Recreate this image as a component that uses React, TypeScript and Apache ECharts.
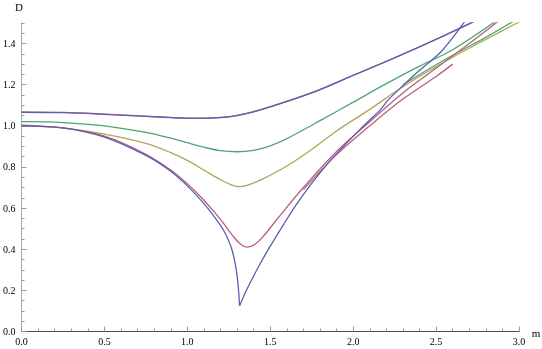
import React, { useEffect, useRef } from "react";
import * as echarts from "echarts";

// m values and D values for each curve
const topM = [0, 0.25, 0.5, 0.75, 0.9, 1.0, 1.1, 1.2, 1.3, 1.4, 1.5, 1.75, 2.0, 2.25, 2.5, 2.75];
const topBlueD = [1.066, 1.064, 1.056, 1.046, 1.04, 1.036, 1.036, 1.04, 1.05, 1.068, 1.092, 1.16, 1.245, 1.33, 1.42, 1.515];
const topRedD = [1.067, 1.065, 1.057, 1.047, 1.041, 1.037, 1.037, 1.041, 1.051, 1.069, 1.093, 1.161, 1.246, 1.331, 1.421, 1.516];

const greenM = [0, 0.25, 0.5, 0.75, 0.9, 1.0, 1.1, 1.2, 1.3, 1.4, 1.5, 1.6, 1.8, 2.0, 2.2, 2.4, 2.6, 2.87];
const greenD = [1.02, 1.016, 1.0, 0.968, 0.94, 0.918, 0.896, 0.879, 0.874, 0.881, 0.903, 0.938, 1.025, 1.115, 1.205, 1.29, 1.37, 1.515];

const oliveM = [0, 0.25, 0.5, 0.75, 0.9, 1.0, 1.1, 1.2, 1.27, 1.31, 1.36, 1.45, 1.6, 1.75, 1.9, 2.1, 2.3, 2.57, 2.8, 3.0];
const oliveD = [1.005, 0.99, 0.96, 0.915, 0.87, 0.832, 0.785, 0.738, 0.712, 0.704, 0.71, 0.74, 0.805, 0.885, 0.975, 1.08, 1.19, 1.32, 1.42, 1.505];

const green2M = [2.3, 2.57, 2.8, 2.98];
const green2D = [1.2, 1.33, 1.43, 1.515];

const redM = [0, 0.25, 0.5, 0.75, 0.9, 1.0, 1.1, 1.2, 1.27, 1.32, 1.36, 1.4, 1.45, 1.55, 1.7, 1.9, 2.1, 2.3, 2.5, 2.7, 2.885];
const redD = [1.0, 0.99, 0.95, 0.862, 0.785, 0.718, 0.638, 0.545, 0.47, 0.425, 0.41, 0.42, 0.455, 0.555, 0.7, 0.875, 1.02, 1.16, 1.28, 1.4, 1.515];

const red2M = [1.7, 1.9, 2.1, 2.3, 2.5, 2.6];
const red2D = [0.69, 0.86, 1.0, 1.13, 1.24, 1.3];

// cusp curve: left branch down to the cusp, right branch up from it
const cuspLeftM = [0, 0.25, 0.5, 0.75, 0.9, 1.0, 1.1, 1.17, 1.22, 1.25, 1.27, 1.285, 1.297, 1.307, 1.315];
const cuspLeftD = [1.0, 0.99, 0.945, 0.856, 0.779, 0.708, 0.622, 0.55, 0.49, 0.44, 0.395, 0.345, 0.29, 0.22, 0.125];
const cuspRightM = [1.315, 1.35, 1.4, 1.45, 1.5, 1.58, 1.66, 1.75, 1.85, 1.93, 2.05, 2.166, 2.21, 2.3, 2.4, 2.53, 2.68];
const cuspRightD = [0.125, 0.19, 0.27, 0.345, 0.415, 0.52, 0.62, 0.72, 0.82, 0.89, 0.99, 1.08, 1.125, 1.195, 1.27, 1.36, 1.515];

const BLUE = "#5e5eb0";
const RED = "#b5607f";
const OLIVE = "#b0a558";
const GREEN = "#4fa572";

const pair = (m: number[], d: number[]) => m.map((v, i) => [v, d[i]]);

export default function App() {
  const ref = useRef<HTMLDivElement>(null);
  useEffect(() => {
    if (!ref.current) return;
    const chart = echarts.init(ref.current, undefined, { renderer: "svg" });
    const font = "Liberation Serif";
    const line = (name: string, data: number[][], color: string, z = 2, smooth: number | boolean = 0.35) => ({
      name,
      type: "line",
      data,
      showSymbol: false,
      smooth,
      lineStyle: { color, width: 1.3 },
      z,
      xAxisIndex: 0,
      yAxisIndex: 0,
    });
    chart.setOption({
      animation: false,
      grid: { left: 19, right: 23, top: 23, bottom: 17.5, containLabel: false },
      xAxis: [
        {
          type: "value",
          min: 0,
          max: 3,
          interval: 0.5,
          axisLine: { lineStyle: { color: "#4a4a66", width: 1 } },
          axisTick: { inside: true, length: 5, lineStyle: { color: "#999" } },
          minorTick: { show: true, splitNumber: 5, length: 3, lineStyle: { color: "#999" } },
          splitLine: { show: false },
          axisLabel: {
            formatter: (v: number) => v.toFixed(1),
            fontFamily: font,
            fontSize: 10,
            color: "#000",
            margin: 5,
          },
        },
      ],
      yAxis: [
        {
          type: "value",
          min: 0,
          max: 1.5,
          interval: 0.05,
          axisLine: { show: true, lineStyle: { color: "#aaa", width: 1 } },
          axisTick: { inside: true, length: 3, lineStyle: { color: "#999" } },
          splitLine: { show: false },
          axisLabel: { show: false },
        },
        {
          type: "value",
          min: 0,
          max: 1.5,
          interval: 0.2,
          position: "left",
          axisLine: { show: false },
          axisTick: { show: true, inside: true, length: 5, lineStyle: { color: "#999" } },
          splitLine: { show: false },
          axisLabel: {
            formatter: (v: number) => (v > 1.45 ? "" : v.toFixed(1)),
            fontFamily: font,
            fontSize: 10,
            color: "#000",
            margin: 6,
            showMaxLabel: false,
          },
        },
      ],
      graphic: [
        { type: "text", x: 19, y: 7, style: { text: "D", font: `11px "${font}"`, fill: "#000", textAlign: "center", textVerticalAlign: "middle" } },
        { type: "text", x: 536, y: 333, style: { text: "m", font: `11px "${font}"`, fill: "#000", textAlign: "center", textVerticalAlign: "middle" } },
      ],
      series: [
        line("top red", pair(topM, topRedD), RED, 1),
        line("top blue", pair(topM, topBlueD), BLUE, 2),
        line("green", pair(greenM, greenD), GREEN),
        line("green 2", pair(green2M, green2D), GREEN),
        line("olive", pair(oliveM, oliveD), OLIVE),
        line("red", pair(redM, redD), RED),
        line("red 2", pair(red2M, red2D), RED),
        line("cusp left", pair(cuspLeftM, cuspLeftD), BLUE, 3, 0.3),
        line("cusp right", pair(cuspRightM, cuspRightD), BLUE, 3, 0.3),
      ],
    });
    return () => chart.dispose();
  }, []);
  return <div ref={ref} style={{ position: "fixed", left: 0, top: 0, width: 542, height: 349 }} />;
}
